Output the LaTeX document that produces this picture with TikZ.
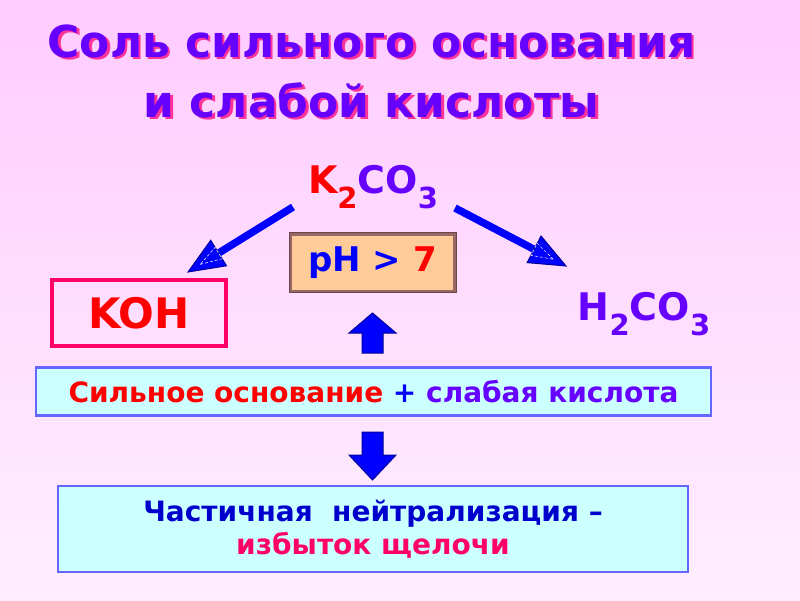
\documentclass[tikz,border=0pt]{standalone}
\usepackage{fontspec}
\setmainfont{DejaVu Sans}
\usetikzlibrary{arrows.meta,calc}
\definecolor{bgtop}{HTML}{FFCCFF}
\definecolor{bgbot}{HTML}{FFEEFF}
\definecolor{violet}{HTML}{6600FF}
\definecolor{shadowpink}{HTML}{FF3399}
\definecolor{pure}{HTML}{FF0000}
\definecolor{blueA}{HTML}{0000FF}
\definecolor{navy}{HTML}{000099}
\definecolor{phfill}{HTML}{FFCC99}
\definecolor{phedge}{HTML}{996666}
\definecolor{crimson}{HTML}{FF0066}
\definecolor{cyanfill}{HTML}{CCFFFF}
\definecolor{boxedge}{HTML}{6666FF}
\definecolor{darkblue}{HTML}{0000CC}
\newcommand{\subsc}[1]{\raisebox{-15pt}{\fontsize{29}{30}\selectfont #1}}
\tikzset{
  txt/.style={inner sep=0pt},
  titlefont/.style={font=\fontsize{44}{60}\selectfont\bfseries},
  formula/.style={inner sep=0pt, anchor=base, font=\fontsize{38}{44}\selectfont\bfseries},
  cyanbox/.style={draw=boxedge, line width=2.5pt, fill=cyanfill},
  diagarrow/.style={draw=blueA, line width=7.5pt},
  headtri/.style={fill=blueA, draw=navy, line width=1pt, line join=miter},
  blockarrow/.style={fill=blueA, draw=navy, line width=1pt, line join=miter},
}
\begin{document}
\begin{tikzpicture}[x=1pt,y=-1pt]
\shade[top color=bgtop, bottom color=bgbot] (0,0) rectangle (800,600);
\useasboundingbox (0,0) rectangle (800,600);
% title with shadow
\node[txt, titlefont, text=shadowpink, align=center, anchor=base] at (374,119.5)
  {Соль сильного основания\\и слабой кислоты};
\node[txt, titlefont, text=violet, align=center, anchor=base] (title) at (371.5,117)
  {Соль сильного основания\\и слабой кислоты};
% K2CO3
\node[formula] (k2co3) at (373,193)
  {\textcolor{pure}{K\subsc{2}}\textcolor{violet}{CO\subsc{3}}};
% KOH box
\node[draw=crimson, line width=4pt, minimum width=174pt, minimum height=66pt,
      font=\fontsize{42}{48}\selectfont\bfseries, text=pure] (koh) at (139,313) {KOH};
% H2CO3
\node[formula, text=violet] (h2co3) at (644,320) {H\subsc{2}CO\subsc{3}};
% pH box
\node[draw=phedge, line width=3pt, fill=phfill, minimum width=164pt, minimum height=57pt,
      font=\fontsize{34}{40}\selectfont\bfseries] (ph) at (372.5,262.5)
  {\textcolor{blueA}{pH > }\textcolor{pure}{7}};
\draw[phedge!70!black, line width=0.8pt] (ph.north west) rectangle (ph.south east);
% middle box
\node[cyanbox, minimum width=675pt, minimum height=48pt,
      font=\fontsize{28}{32}\selectfont\bfseries] (mid) at (373.5,391.5)
  {\textcolor{pure}{Сильное основание} \textcolor{blueA}{+} \textcolor{violet}{слабая кислота}};
% bottom box
\node[cyanbox, minimum width=630pt, minimum height=86pt, align=center,
      font=\fontsize{28}{33}\selectfont\bfseries] (bot) at (373,529)
  {\textcolor{darkblue}{Частичная\ \ нейтрализация –}\\\textcolor{crimson}{избыток щелочи}};
% diagonal arrows
\coordinate (l0) at (293,207);
\coordinate (ltip) at (188,272);
\coordinate (r0) at (455,208);
\coordinate (rtip) at (566,266);
\foreach \s/\t in {l0/ltip, r0/rtip}{
  \draw[diagarrow] (\s) -- ($(\t)!30pt!(\s)$);
  \path coordinate (b) at ($(\t)!36pt!(\s)$)
        coordinate (c1) at ($(b)!15pt!90:(\t)$)
        coordinate (c2) at ($(b)!15pt!-90:(\t)$);
  \draw[headtri] (\t) -- (c1) -- (c2) -- cycle;
  \draw[white, line width=0.5pt, densely dashed] ($(\t)!0.4!(b)$) -- ($(c1)!0.55!(b)$) -- ($(c2)!0.55!(b)$) -- cycle;
}
% block arrows
\coordinate (upbase) at (372.5,353);
\draw[blockarrow] (upbase) -- ++(-10.5,0) -- ++(0,-20) -- ++(-13,0) -- (372.5,313) -- (396,333) -- ++(-13,0) -- ++(0,20) -- cycle;
\coordinate (dntop) at (372.5,432);
\draw[blockarrow] (dntop) -- ++(-10.5,0) -- ++(0,23) -- ++(-13,0) -- (372.5,480) -- (396,455) -- ++(-13,0) -- ++(0,-23) -- cycle;
\end{tikzpicture}
\end{document}
